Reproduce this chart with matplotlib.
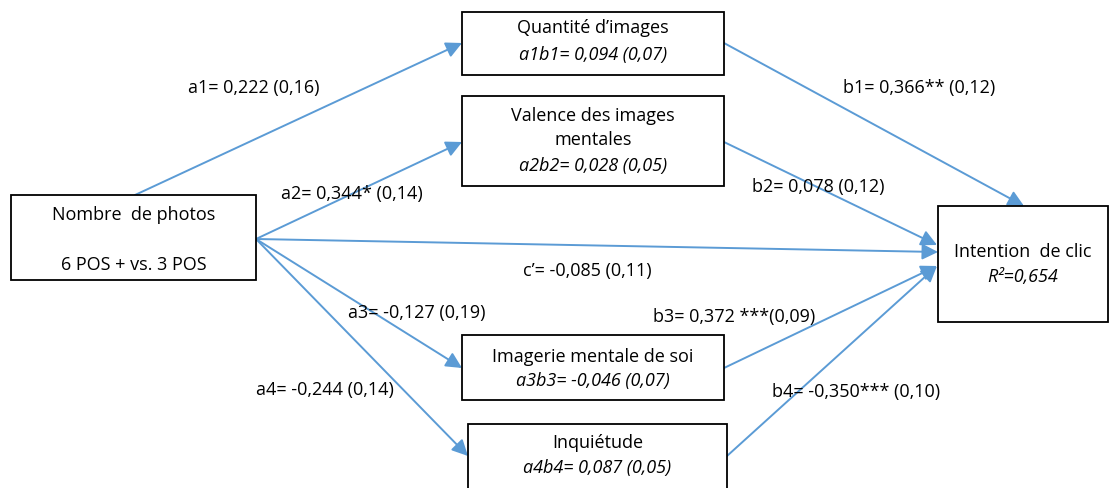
import matplotlib
matplotlib.use("Agg")
import matplotlib.pyplot as plt
from matplotlib.patches import Rectangle, FancyArrowPatch

plt.rcParams['font.family'] = ['Open Sans', 'DejaVu Sans']

# ---- data ----
node_names = ["X", "M1", "M2", "Y", "M3", "M4"]
node_titles = {
    "X": ["Nombre  de photos", "", "6 POS + vs. 3 POS"],
    "M1": ["Quantité d\u2019images"],
    "M2": ["Valence des images", "mentales"],
    "Y": ["Intention  de clic"],
    "M3": ["Imagerie mentale de soi"],
    "M4": ["Inquiétude"],
}
node_stats = {
    "X": None,
    "M1": "a1b1= 0,094 (0,07)",
    "M2": "a2b2= 0,028 (0,05)",
    "Y": "R\u00b2=0,654",
    "M3": "a3b3= -0,046 (0,07)",
    "M4": "a4b4= 0,087 (0,05)",
}
path_names = ["a1", "a2", "c\u2019", "a3", "a4", "b1", "b2", "b3", "b4"]
path_coefs = ["0,222", "0,344*", "-0,085", "-0,127", "-0,244",
              "0,366**", "0,078", "0,372 ***", "-0,350***"]
path_sep = [" ", " ", " ", " ", " ", " ", " ", "", " "]
path_se = ["0,16", "0,14", "0,11", "0,19", "0,14", "0,12", "0,12", "0,09", "0,10"]

# ---- layout (pixels, y downward) ----
W, H = 1110, 489
boxes = {  # x0, y0, x1, y1
    "X": (11, 196, 256, 281),
    "M1": (462, 13, 724, 76),
    "M2": (462, 97, 724, 187),
    "Y": (938, 207, 1108, 323),
    "M3": (462, 336, 724, 401),
    "M4": (468, 425, 727, 495),
}
title_y = {"X": [215, 240, 265], "M1": [28], "M2": [116, 140], "Y": [252],
           "M3": [357], "M4": [443]}
stat_y = {"M1": 55, "M2": 166, "Y": 277, "M3": 381, "M4": 468}
arrows = [  # start, end
    ((135, 196), (462, 44)),
    ((256, 240), (462, 143)),
    ((256, 240), (938, 253)),
    ((256, 240), (462, 369)),
    ((256, 240), (468, 457)),
    ((724, 44), (1024, 207)),
    ((724, 143), (937, 246)),
    ((724, 369), (937, 267)),
    ((727, 457), (937, 267)),
]
label_pos = [(188, 88), (281, 194), (523, 271), (348, 313), (256, 390),
             (843, 88), (752, 187), (653, 317), (772, 392)]

FS = 13
BLUE = "#5B9BD5"

fig = plt.figure(figsize=(W / 100, H / 100), dpi=100)
ax = fig.add_axes([0, 0, 1, 1])
ax.set_xlim(0, W)
ax.set_ylim(H, 0)
ax.axis("off")

for n in node_names:
    x0, y0, x1, y1 = boxes[n]
    ax.add_patch(Rectangle((x0, y0), x1 - x0, y1 - y0, fill=True, facecolor="white",
                           edgecolor="black", lw=1.3, zorder=3))
    cx = (x0 + x1) / 2
    for t, yy in zip(node_titles[n], title_y[n]):
        ax.text(cx, yy, t, ha="center", va="center", fontsize=FS, zorder=4)
    if node_stats[n]:
        ax.text(cx, stat_y[n], node_stats[n], ha="center", va="center",
                fontsize=FS, style="italic", zorder=4)

for (s, e) in arrows:
    ax.add_patch(FancyArrowPatch(s, e, arrowstyle="-|>,head_length=0.8,head_width=0.4",
                                 mutation_scale=12, color=BLUE, lw=1.4,
                                 shrinkA=0, shrinkB=0, zorder=2))

for name, c, sep, se, (x, y) in zip(path_names, path_coefs, path_sep, path_se, label_pos):
    ax.text(x, y, f"{name}= {c}{sep}({se})", ha="left", va="center", fontsize=FS, zorder=5)

fig.savefig("out.png", dpi=100)
